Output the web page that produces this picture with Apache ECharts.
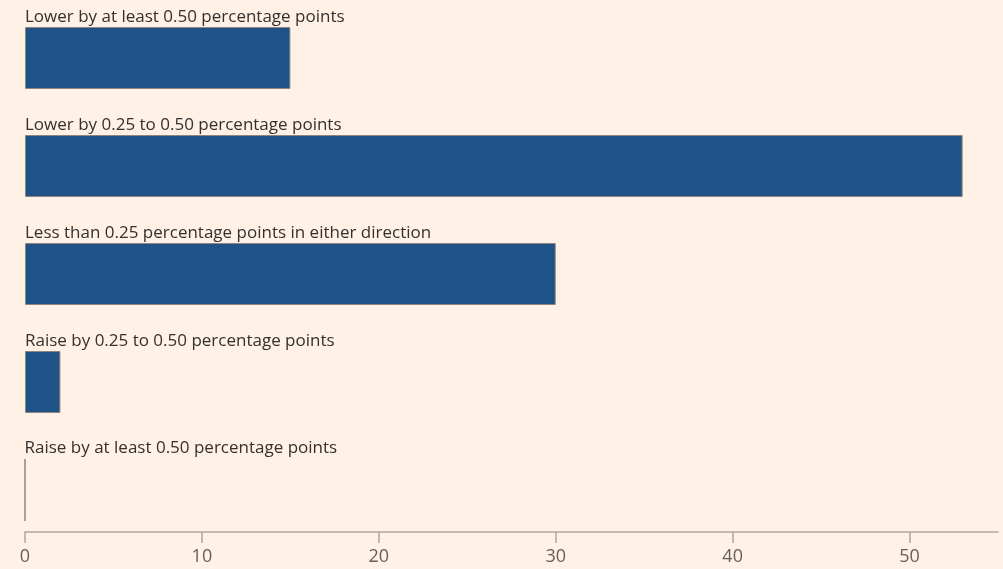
<!DOCTYPE html>
<html>
<head>
<meta charset="utf-8">
<script src="https://cdn.jsdelivr.net/npm/echarts@6/dist/echarts.min.js"></script>
<style>
  html, body { margin: 0; padding: 0; background: #fff1e5; }
  #main { width: 1003px; height: 569px; }
</style>
</head>
<body>
<div id="main"></div>
<script>
// answer categories, top to bottom
const categories = [
  'Lower by at least 0.50 percentage points',
  'Lower by 0.25 to 0.50 percentage points',
  'Less than 0.25 percentage points in either direction',
  'Raise by 0.25 to 0.50 percentage points',
  'Raise by at least 0.50 percentage points'
];
const values = [15, 53, 30, 2, 0];
const xTicks = [0, 10, 20, 30, 40, 50];

const chart = echarts.init(document.getElementById('main'));

const option = {
  backgroundColor: '#fff1e5',
  animation: false,
  grid: {
    left: 25,
    right: 5,
    top: 4,
    height: 540
  },
  xAxis: {
    type: 'value',
    min: 0,
    max: 55,
    interval: 10,
    offset: -12,
    splitLine: { show: false },
    axisLine: { show: true, lineStyle: { color: '#b0a69e', width: 1.5 } },
    axisTick: {
      show: true,
      length: 11,
      customValues: xTicks,
      lineStyle: { color: '#b0a69e', width: 1.5 }
    },
    axisLabel: {
      color: '#66605c',
      fontSize: 18,
      fontFamily: 'Open Sans',
      margin: 16,
      customValues: xTicks
    }
  },
  yAxis: {
    type: 'category',
    inverse: true,
    data: categories,
    axisLine: { show: false },
    axisTick: { show: false },
    axisLabel: { show: false }
  },
  series: [{
    type: 'bar',
    data: values,
    barWidth: 62,
    itemStyle: {
      color: '#1f5287',
      borderColor: '#8a8580',
      borderWidth: 1
    },
    label: {
      show: true,
      position: [0, -10],
      align: 'left',
      verticalAlign: 'middle',
      formatter: '{b}',
      color: '#33302e',
      fontSize: 17,
      fontFamily: 'Open Sans'
    }
  }]
};

chart.setOption(option);
</script>
</body>
</html>
